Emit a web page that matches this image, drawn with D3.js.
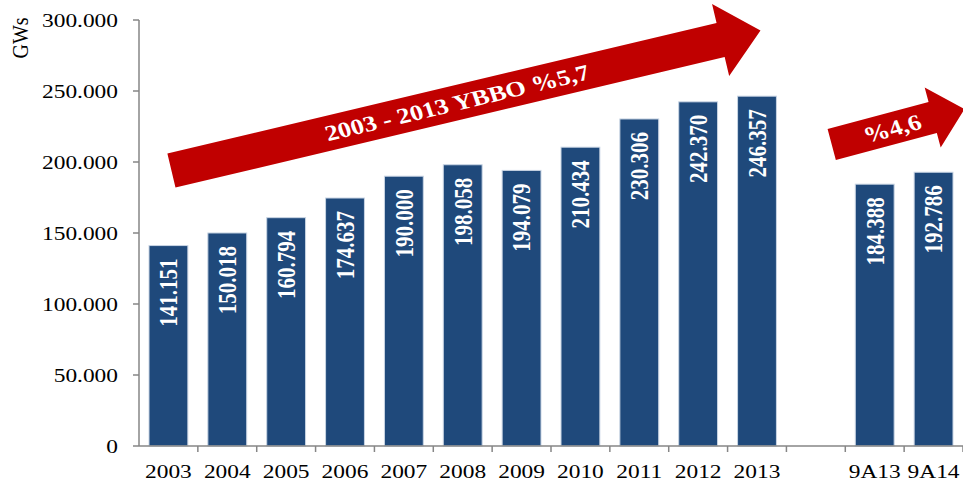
<!DOCTYPE html>
<html>
<head>
<meta charset="utf-8">
<script src="https://cdn.jsdelivr.net/npm/d3@7"></script>
<style>
  body { margin: 0; background: #fff; }
  text { font-family: "Liberation Serif", "Times New Roman", serif; }
</style>
</head>
<body>
<script>
// data
const categories = ["2003","2004","2005","2006","2007","2008","2009","2010","2011","2012","2013"," ","9A13","9A14"];
const values = [141151,150018,160794,174637,190000,198058,194079,210434,230306,242370,246357,null,184388,192786];
const yTicks = [0,50000,100000,150000,200000,250000,300000];
const unitLabel = "GWs";
const arrowTexts = ["2003 - 2013 YBBO %5,7", "%4,6"];

const width = 963, height = 486;
const sx = 1.2; // the original picture is stretched sideways

const loc = d3.formatLocale({decimal: ",", thousands: ".", grouping: [3], currency: ["", ""]});
const fmt = loc.format(",.0f");

const svg = d3.select("body").append("svg")
    .attr("width", width)
    .attr("height", height);

const x = d3.scaleBand()
    .domain(categories)
    .range([139, 963])
    .paddingInner(0.34)
    .paddingOuter(0.17);

const y = d3.scaleLinear()
    .domain([0, 300000])
    .range([446, 20]);

const xc = c => x(c) + x.bandwidth() / 2;
const axisColor = "#868686";

// bars
svg.append("g").selectAll("rect")
    .data(categories.map((c, i) => ({c, v: values[i]})).filter(d => d.v != null))
    .join("rect")
    .attr("x", d => x(d.c))
    .attr("y", d => y(d.v))
    .attr("width", x.bandwidth())
    .attr("height", d => y(0) - y(d.v))
    .attr("fill", "#1f497b")
    .attr("stroke", "#c9d5e4")
    .attr("stroke-width", 1);

// value labels in bars
svg.append("g").selectAll("text")
    .data(categories.map((c, i) => ({c, v: values[i]})).filter(d => d.v != null))
    .join("text")
    .attr("transform", d => `translate(${xc(d.c)},${y(d.v) + 13}) scale(${sx},1) rotate(-90)`)
    .attr("text-anchor", "end")
    .attr("dy", "0.35em")
    .attr("fill", "#fff")
    .attr("font-weight", "bold")
    .attr("font-size", 21)
    .text(d => fmt(d.v));

// y axis
const ya = svg.append("g");
ya.append("line")
    .attr("x1", 139).attr("x2", 139)
    .attr("y1", y(300000)).attr("y2", y(0))
    .attr("stroke", axisColor).attr("stroke-width", 1.5);
ya.selectAll(".tk").data(yTicks).join("line")
    .attr("x1", 133).attr("x2", 139)
    .attr("y1", d => y(d)).attr("y2", d => y(d))
    .attr("stroke", axisColor).attr("stroke-width", 1.5);
ya.selectAll("text").data(yTicks).join("text")
    .attr("transform", d => `translate(118,${y(d)}) scale(${sx},1)`)
    .attr("text-anchor", "end")
    .attr("dy", "0.35em")
    .attr("font-size", 19.5)
    .attr("fill", "#000")
    .text(d => fmt(d));

svg.append("text")
    .attr("transform", `translate(20,38) scale(${sx},1) rotate(-90)`)
    .attr("text-anchor", "middle")
    .attr("dy", "0.35em")
    .attr("font-size", 20)
    .text(unitLabel);

// x axis
const xa = svg.append("g");
xa.append("line")
    .attr("x1", 139).attr("x2", width)
    .attr("y1", y(0)).attr("y2", y(0))
    .attr("stroke", axisColor).attr("stroke-width", 1.5);
const gap = x.step() * x.paddingInner() / 2;
xa.selectAll(".tk").data(categories).join("line")
    .attr("x1", d => x(d) + x.bandwidth() + gap)
    .attr("x2", d => x(d) + x.bandwidth() + gap)
    .attr("y1", y(0)).attr("y2", y(0) + 6)
    .attr("stroke", axisColor).attr("stroke-width", 1.5);
xa.selectAll("text").data(categories).join("text")
    .attr("transform", d => `translate(${xc(d)},478) scale(${sx},1)`)
    .attr("text-anchor", "middle")
    .attr("font-size", 19.5)
    .attr("fill", "#000")
    .text(d => d.trim());

// growth arrows
const arrows = [
  {from: [xc("2003") + 3, y(194000)], to: [xc("2013") + 3.5, y(292600)], shaft: 35, head: 74, headLen: 41, text: arrowTexts[0], size: 22, pos: 0.52},
  {from: [xc("9A13") - 43, y(212300)], to: [xc("9A14") + 31, y(237300)], shaft: 32, head: 62, headLen: 33, text: arrowTexts[1], size: 22, pos: 0.6}
];

function arrowPoints(a) {
  const [x0, y0] = a.from, [x1, y1] = a.to;
  const len = Math.hypot(x1 - x0, y1 - y0);
  const ux = (x1 - x0) / len, uy = (y1 - y0) / len;
  const nx = -uy, ny = ux;
  const bx = x1 - ux * a.headLen, by = y1 - uy * a.headLen;
  const s = a.shaft / 2, h = a.head / 2;
  return [
    [x0 - nx * s, y0 - ny * s],
    [bx - nx * s, by - ny * s],
    [bx - nx * h, by - ny * h],
    [x1, y1],
    [bx + nx * h, by + ny * h],
    [bx + nx * s, by + ny * s],
    [x0 + nx * s, y0 + ny * s]
  ];
}

const ag = svg.append("g");
ag.selectAll("polygon").data(arrows).join("polygon")
    .attr("points", d => arrowPoints(d).map(p => p.join(",")).join(" "))
    .attr("fill", "#c00000");

ag.selectAll("text").data(arrows).join("text")
    .attr("transform", d => {
      const [x0, y0] = d.from, [x1, y1] = d.to;
      const len = Math.hypot(x1 - x0, y1 - y0);
      const bx = x1 - (x1 - x0) * d.headLen / len;
      const by = y1 - (y1 - y0) * d.headLen / len;
      const cx = x0 + (bx - x0) * d.pos, cy = y0 + (by - y0) * d.pos;
      const ang = Math.atan2((y1 - y0) * sx, (x1 - x0)) * 180 / Math.PI;
      return `translate(${cx},${cy}) scale(${sx},1) rotate(${ang})`;
    })
    .attr("text-anchor", "middle")
    .attr("dy", "0.35em")
    .attr("fill", "#fff")
    .attr("font-weight", "bold")
    .attr("font-size", d => d.size)
    .text(d => d.text);
</script>
</body>
</html>
